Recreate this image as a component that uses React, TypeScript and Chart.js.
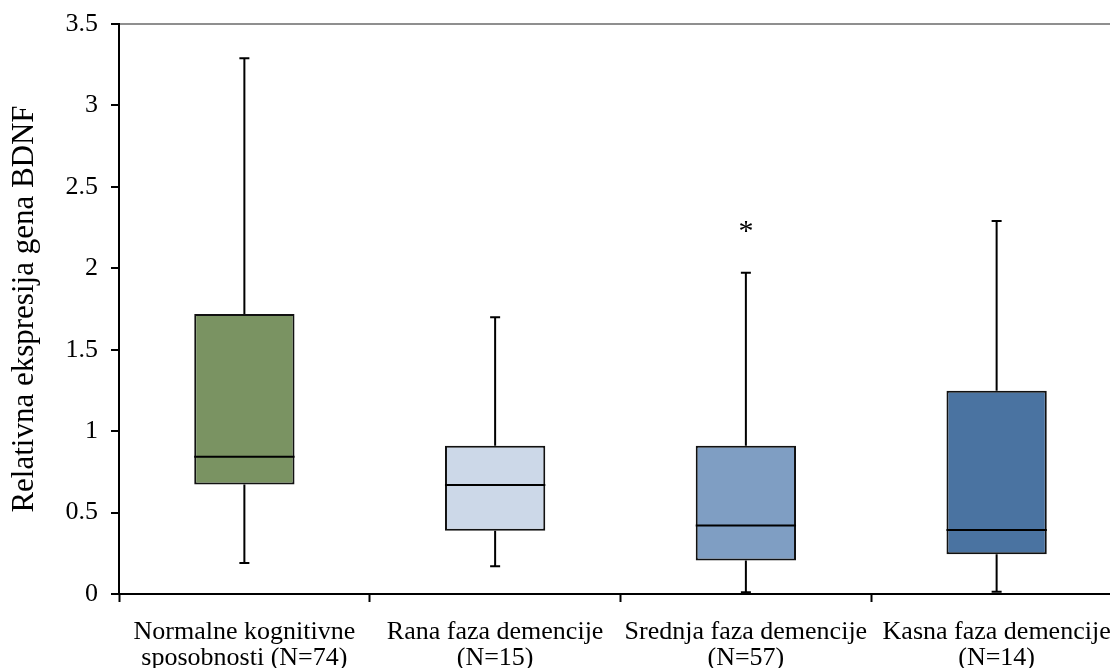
import React, { useEffect, useRef } from "react";
import { Chart, registerables } from "chart.js";

Chart.register(...registerables);

const categories: string[][] = [
  ["Normalne kognitivne", "sposobnosti (N=74)"],
  ["Rana faza demencije", "(N=15)"],
  ["Srednja faza demencije", "(N=57)"],
  ["Kasna faza demencije", "(N=14)"],
];
const mins = [0.19, 0.17, 0.01, 0.014];
const q1s = [0.673, 0.389, 0.205, 0.244];
const medians = [0.843, 0.669, 0.42, 0.393];
const q3s = [1.719, 0.911, 0.91, 1.248];
const maxs = [3.29, 1.7, 1.973, 2.29];
const outliers: number[][] = [[], [], [2.23], []];
const boxColors = ["#7a9362", "#ccd8e8", "#7f9ec3", "#4a73a1"];
const yTickValues = [0, 0.5, 1, 1.5, 2, 2.5, 3, 3.5];
const yTickLabels = ["0", "0.5", "1", "1.5", "2", "2.5", "3", "3.5"];

const FONT = "'Liberation Serif', 'Times New Roman', serif";

const boxPlugin = {
  id: "boxExtras",
  afterDatasetsDraw(chart: any) {
    const ctx = chart.ctx;
    const x = chart.scales.x;
    const y = chart.scales.y;
    const meta = chart.getDatasetMeta(0);
    ctx.save();
    ctx.strokeStyle = "#000";
    ctx.lineWidth = 2;
    categories.forEach((_, i) => {
      const el = meta.data[i];
      const cx = x.getPixelForValue(i);
      const half = el.width / 2;
      const capHalf = 5;
      const pMin = y.getPixelForValue(mins[i]);
      const pMax = y.getPixelForValue(maxs[i]);
      const pQ1 = y.getPixelForValue(q1s[i]);
      const pQ3 = y.getPixelForValue(q3s[i]);
      const pMed = y.getPixelForValue(medians[i]);
      ctx.beginPath();
      ctx.moveTo(cx, pQ3);
      ctx.lineTo(cx, pMax);
      ctx.moveTo(cx - capHalf, pMax);
      ctx.lineTo(cx + capHalf, pMax);
      ctx.moveTo(cx, pQ1);
      ctx.lineTo(cx, pMin);
      ctx.moveTo(cx - capHalf, pMin);
      ctx.lineTo(cx + capHalf, pMin);
      ctx.stroke();
      ctx.beginPath();
      ctx.moveTo(cx - half, pMed);
      ctx.lineTo(cx + half, pMed);
      ctx.stroke();
      ctx.fillStyle = "#000";
      ctx.font = `30px ${FONT}`;
      ctx.textAlign = "center";
      ctx.textBaseline = "alphabetic";
      outliers[i].forEach((v) => {
        const py = y.getPixelForValue(v);
        ctx.fillText("*", cx, py + 9);
      });
    });
    ctx.restore();
  },
};

export default function App() {
  const ref = useRef<HTMLCanvasElement | null>(null);
  useEffect(() => {
    document.body.style.margin = "0";
    const canvas = ref.current!;
    const chart = new Chart(canvas, {
      type: "bar",
      data: {
        labels: categories as any,
        datasets: [
          {
            data: q1s.map((q, i) => [q, q3s[i]]) as any,
            backgroundColor: boxColors,
            borderColor: "#111",
            borderWidth: 2,
            borderSkipped: false,
            barPercentage: 0.4,
            categoryPercentage: 1.0,
          },
        ],
      },
      options: {
        animation: false,
        responsive: false,
        devicePixelRatio: 1,
        layout: { padding: { left: 0, top: 24, right: 8, bottom: 0 } },
        plugins: { legend: { display: false }, tooltip: { enabled: false } },
        scales: {
          x: {
            offset: true,
            grid: {
              offset: true,
              drawOnChartArea: false,
              drawTicks: true,
              tickLength: 8,
              tickColor: "#000",
              tickWidth: 2,
              color: "#000",
            },
            border: { display: true, color: "#000", width: 2 },
            ticks: {
              color: "#000",
              font: { family: FONT, size: 26, lineHeight: 1.0 },
              padding: 17,
              maxRotation: 0,
              autoSkip: false,
            },
            afterFit(scale: any) {
              scale.height = 74;
            },
          },
          y: {
            min: 0,
            max: 3.5,
            afterBuildTicks(scale: any) {
              scale.ticks = yTickValues.map((v) => ({ value: v }));
            },
            grid: {
              drawOnChartArea: true,
              drawTicks: true,
              tickLength: 8,
              tickColor: "#000",
              tickWidth: 2,
              lineWidth: 2,
              color: (c: any) => (c.tick && c.tick.value === 3.5 ? "#8f8f8f" : "rgba(0,0,0,0)"),
            },
            border: { display: true, color: "#000", width: 2 },
            ticks: {
              color: "#000",
              font: { family: FONT, size: 26 },
              padding: 13,
              callback: (_v: any, idx: number) => yTickLabels[idx],
            },
            title: {
              display: true,
              text: "Relativna ekspresija gena BDNF",
              color: "#000",
              font: { family: FONT, size: 31, weight: "normal" },
              padding: { top: 6, bottom: 0 },
            },
            afterFit(scale: any) {
              scale.width = 119;
              scale.paddingTop = 0;
              scale.paddingBottom = 0;
            },
          },
        },
      },
      plugins: [boxPlugin],
    });
    return () => chart.destroy();
  }, []);
  return (
    <div style={{ width: 1110, height: 668, overflow: "hidden", background: "#fff" }}>
      <canvas ref={ref} width={1130} height={668} style={{ display: "block" }} />
    </div>
  );
}
